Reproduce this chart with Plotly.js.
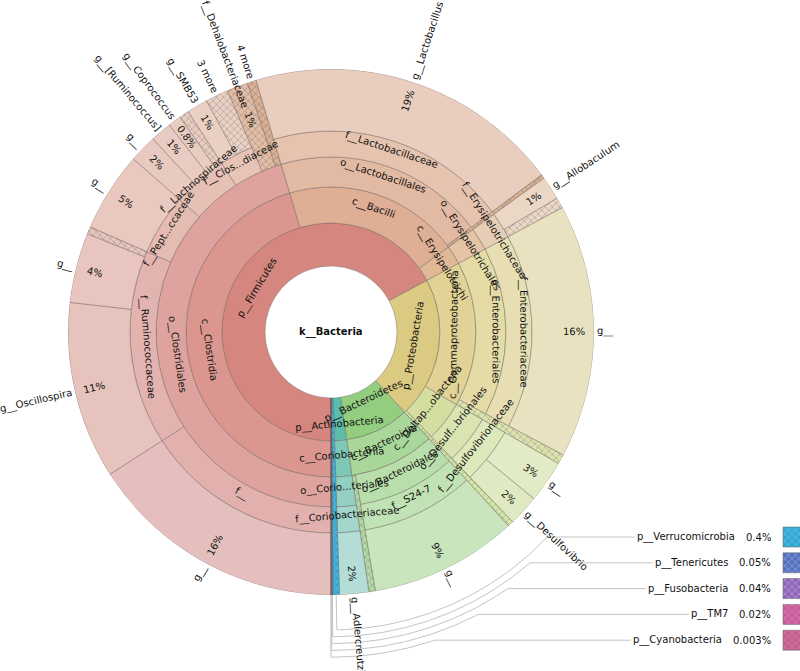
<!DOCTYPE html>
<html><head><meta charset="utf-8">
<script src="https://cdn.plot.ly/plotly-3.0.1.min.js"></script>
<style>html,body{margin:0;padding:0;background:#fff}#chart{width:800px;height:671px}</style>
</head><body><div id="chart"></div>
<script>
// ================= DATA =================
const rootName = "k__Bacteria";
// leaves, clockwise from 6 o'clock; "~other" = unlabeled remainder, "n more" = collapsed group
const leafPaths = [
  "p__Firmicutes/c__Clostridia/o__Clostridiales/f__/g__",
  "p__Firmicutes/c__Clostridia/o__Clostridiales/f__Ruminococcaceae/g__Oscillospira",
  "p__Firmicutes/c__Clostridia/o__Clostridiales/f__Ruminococcaceae/g__",
  "p__Firmicutes/c__Clostridia/o__Clostridiales/f__Ruminococcaceae/~other",
  "p__Firmicutes/c__Clostridia/o__Clostridiales/f__Pept...ccaceae/g__",
  "p__Firmicutes/c__Clostridia/o__Clostridiales/f__Lachnospiraceae/g__",
  "p__Firmicutes/c__Clostridia/o__Clostridiales/f__Lachnospiraceae/g__[Ruminococcus]",
  "p__Firmicutes/c__Clostridia/o__Clostridiales/f__Lachnospiraceae/g__Coprococcus",
  "p__Firmicutes/c__Clostridia/o__Clostridiales/f__Lachnospiraceae/~other",
  "p__Firmicutes/c__Clostridia/o__Clostridiales/f__Clos...diaceae/g__SMB53",
  "p__Firmicutes/c__Clostridia/o__Clostridiales/f__Clos...diaceae/3 more",
  "p__Firmicutes/c__Clostridia/o__Clostridiales/f__Dehalobacteriaceae",
  "p__Firmicutes/c__Clostridia/o__Clostridiales/4 more",
  "p__Firmicutes/c__Bacilli/o__Lactobacillales/f__Lactobacillaceae/g__Lactobacillus",
  "p__Firmicutes/c__Bacilli/~other",
  "p__Firmicutes/c__Erysipelotrichi/o__Erysipelotrichales/f__Erysipelotrichaceae/g__Allobaculum",
  "p__Firmicutes/c__Erysipelotrichi/o__Erysipelotrichales/f__Erysipelotrichaceae/~other",
  "p__Proteobacteria/c__Gammaproteobacteria/o__Enterobacteriales/f__Enterobacteriaceae/g__",
  "p__Proteobacteria/c__Gammaproteobacteria/~other",
  "p__Proteobacteria/c__Deltap...obacteria/o__Desulf...brionales/f__Desulfovibrionaceae/g__",
  "p__Proteobacteria/c__Deltap...obacteria/o__Desulf...brionales/f__Desulfovibrionaceae/g__Desulfovibrio",
  "p__Proteobacteria/~other",
  "p__Bacteroidetes/c__Bacteroidia/o__Bacteroidales/f__S24-7/g__",
  "p__Bacteroidetes/c__Bacteroidia/~other",
  "p__Actinobacteria/c__Coriobacteriia/o__Corio...teriales/f__Coriobacteriaceae/g__Adlercreutzia"
];
const leafValues = [15.9, 10.9, 4.3, 0.45, 4.9, 1.7, 1.3, 0.8, 0.6, 1.3, 1.4, 1.3, 0.55,
                    19.4, 0.25, 1.45, 0.65, 15.6, 0.6, 2.6, 1.9, 0.35, 9.1, 0.4, 1.787];
// small phyla shown with keys
const minorPhyla  = ["p__Verrucomicrobia", "p__Tenericutes", "p__Fusobacteria", "p__TM7", "p__Cyanobacteria"];
const minorValues = [0.4, 0.05, 0.04, 0.02, 0.003];

// ================= STYLE =================
const W = 800, H = 671, CX = 331, CY = 332;
const RING = [66, 109, 145, 175, 201, 263];
const FONT = "DejaVu Sans", FS = 10;
const FC = "p__Firmicutes/c__Clostridia", FCO = FC + "/o__Clostridiales";
const FB = "p__Firmicutes/c__Bacilli", FE = "p__Firmicutes/c__Erysipelotrichi";
const PG = "p__Proteobacteria/c__Gammaproteobacteria", PD = "p__Proteobacteria/c__Deltap...obacteria";
const BB = "p__Bacteroidetes/c__Bacteroidia", AC = "p__Actinobacteria/c__Coriobacteriia";
const nodeColor = {
  "p__Firmicutes": "#d5877f",
  [FC]: "#da968f", [FCO]: "#dea39e",
  [FCO+"/f__"]: "#e2b1ae", [FCO+"/f__/g__"]: "#e5bfbd",
  [FCO+"/f__Ruminococcaceae"]: "#e3b4af", [FCO+"/f__Ruminococcaceae/g__Oscillospira"]: "#e7c3bd",
  [FCO+"/f__Ruminococcaceae/g__"]: "#e8c6bf", [FCO+"/f__Ruminococcaceae/~other"]: "#e8c6bf",
  [FCO+"/f__Pept...ccaceae"]: "#e5bcb2", [FCO+"/f__Pept...ccaceae/g__"]: "#e8c8bf",
  [FCO+"/f__Lachnospiraceae"]: "#e6c0b4", [FCO+"/f__Lachnospiraceae/g__"]: "#e9cac0",
  [FCO+"/f__Lachnospiraceae/g__[Ruminococcus]"]: "#e9ccc1", [FCO+"/f__Lachnospiraceae/g__Coprococcus"]: "#eacdc1",
  [FCO+"/f__Lachnospiraceae/~other"]: "#eacdc1",
  [FCO+"/f__Clos...diaceae"]: "#e7c4b6", [FCO+"/f__Clos...diaceae/g__SMB53"]: "#eacfc3",
  [FCO+"/f__Clos...diaceae/3 more"]: "#ebd1c5",
  [FCO+"/f__Dehalobacteriaceae"]: "#e3bea6", [FCO+"/4 more"]: "#dcb196",
  [FB]: "#deae95", [FB+"/o__Lactobacillales"]: "#e2b9a2",
  [FB+"/o__Lactobacillales/f__Lactobacillaceae"]: "#e5c3af",
  [FB+"/o__Lactobacillales/f__Lactobacillaceae/g__Lactobacillus"]: "#e9cdbf",
  [FB+"/~other"]: "#d9b394",
  [FE]: "#dfb996", [FE+"/o__Erysipelotrichales"]: "#e3c4a7",
  [FE+"/o__Erysipelotrichales/f__Erysipelotrichaceae"]: "#e6ceb6",
  [FE+"/o__Erysipelotrichales/f__Erysipelotrichaceae/g__Allobaculum"]: "#ebd7c5",
  [FE+"/o__Erysipelotrichales/f__Erysipelotrichaceae/~other"]: "#ebd9c6",
  "p__Proteobacteria": "#dbca81",
  [PG]: "#e0d395", [PG+"/o__Enterobacteriales"]: "#e4dba6",
  [PG+"/o__Enterobacteriales/f__Enterobacteriaceae"]: "#e7dfb3",
  [PG+"/o__Enterobacteriales/f__Enterobacteriaceae/g__"]: "#e9e2c1",
  [PG+"/~other"]: "#dde4b0",
  [PD]: "#d3dea0", [PD+"/o__Desulf...brionales"]: "#d9e4b0",
  [PD+"/o__Desulf...brionales/f__Desulfovibrionaceae"]: "#dde8bb",
  [PD+"/o__Desulf...brionales/f__Desulfovibrionaceae/g__"]: "#e1ebc5",
  [PD+"/o__Desulf...brionales/f__Desulfovibrionaceae/g__Desulfovibrio"]: "#dfeac3",
  "p__Proteobacteria/~other": "#d4e6aa",
  "p__Bacteroidetes": "#93cd80",
  [BB]: "#a9d799", [BB+"/o__Bacteroidales"]: "#b8deab",
  [BB+"/o__Bacteroidales/f__S24-7"]: "#c1e2b5", [BB+"/o__Bacteroidales/f__S24-7/g__"]: "#c8e5be",
  [BB+"/~other"]: "#b3dba6",
  "p__Actinobacteria": "#5dbda9",
  [AC]: "#7ec8b8", [AC+"/o__Corio...teriales"]: "#93d0c3",
  [AC+"/o__Corio...teriales/f__Coriobacteriaceae"]: "#a4d7cc",
  [AC+"/o__Corio...teriales/f__Coriobacteriaceae/g__Adlercreutzia"]: "#b3ddd6",
  "p__Verrucomicrobia": "#3cb6e3", "p__Tenericutes": "#5872c2", "p__Fusobacteria": "#9066b8",
  "p__TM7": "#d567a8", "p__Cyanobacteria": "#cf6a9a"
};
const extraHatched = [FCO+"/f__Dehalobacteriaceae"];
// radial nudges (px) for a few ring labels
const labelNudge = {"p__Actinobacteria": 9, "p__Bacteroidetes": -7, "p__Firmicutes": -5,
                    [FCO+"/f__Lachnospiraceae"]: 10};

// ================= BUILD HIERARCHY =================
const allPaths = leafPaths.concat(minorPhyla);
const allValues = leafValues.concat(minorValues);
const nodes = {}; const order = [];
let cum = 0;
allPaths.forEach((p, i) => {
  const segs = p.split("/");
  const v = allValues[i];
  segs.forEach((s, d) => {
    const id = segs.slice(0, d + 1).join("/");
    if (!nodes[id]) { nodes[id] = {id, name: s, depth: d + 1, start: cum, value: 0, leaf: false}; order.push(id); }
    nodes[id].value += v;
  });
  nodes[p].leaf = true;
  cum += v;
});
const TOTAL = cum;
const toDeg = v => v / TOTAL * 360;

const ctx = document.createElement("canvas").getContext("2d");
function tw(s, bold) { ctx.font = (bold ? "bold " : "") + FS + "px '" + FONT + "'"; return ctx.measureText(s).width; }
function pt(r, phi) { const a = phi * Math.PI / 180; return [CX - r * Math.sin(a), CY + r * Math.cos(a)]; }
function norm(a) { while (a > 90) a -= 180; while (a <= -90) a += 180; return a; }
function radAng(phi) { const a = phi * Math.PI / 180; return Math.atan2(Math.cos(a), -Math.sin(a)) * 180 / Math.PI; }
function fmtPct(v) { return (v >= 1 ? Math.round(v) : +v.toPrecision(1)) + "%"; }
const isHidden = n => n.name.startsWith("~");
const isMore = n => /more$/.test(n.name);

// bars
const th = [], wd = [], bs = [], rr = [], cols = [], shp = [];
order.forEach(id => {
  const n = nodes[id];
  const a0 = toDeg(n.start), w = toDeg(n.value);
  const inner = RING[n.depth - 1];
  const outer = n.leaf ? RING[5] : RING[n.depth];
  th.push(a0 + w / 2); wd.push(w); bs.push(inner); rr.push(outer - inner);
  cols.push(nodeColor[id] || "#dddddd");
  shp.push((isHidden(n) || isMore(n) || extraHatched.includes(id) || n.depth === 1 && n.leaf) ? "x" : "");
});

const annotations = [];
const A = (text, x, y, angle, opts) => annotations.push(Object.assign({
  text, x, y, xref: "x", yref: "y", showarrow: false, textangle: angle,
  xanchor: "center", yanchor: "middle", font: {family: FONT, size: FS, color: "#111"}
}, opts || {}));

A("<b>" + rootName + "</b>", CX, CY, 0);

order.forEach(id => {
  const n = nodes[id];
  const phi = toDeg(n.start) + toDeg(n.value) / 2;
  if (!n.leaf) {
    const rm = (RING[n.depth - 1] + RING[n.depth]) / 2 + (labelNudge[id] || 0);
    const ang = norm(radAng(phi) + 90);
    let [x, y] = pt(rm, phi);
    const t = ang * Math.PI / 180;            // shift toward the text's "up" side (baseline on mid radius)
    x += 4 * Math.sin(t); y -= 4 * Math.cos(t);
    A(n.name, x, y, ang);
  } else if (n.depth >= 4 && !isHidden(n)) {
    const extended = n.depth < 5;
    let labelStart = RING[5] + 3;
    if (!isMore(n)) {
      const rp = extended ? (RING[n.depth - 1] + RING[5]) / 2 + 8 : RING[5] - 20;
      const [x, y] = pt(rp, phi);
      A(fmtPct(n.value / TOTAL * 100), x, y, norm(radAng(phi)));
      if (extended) labelStart = RING[5] - 23;
    }
    const w = tw(n.name);
    const [x2, y2] = pt(labelStart + w / 2, phi);
    A(n.name, x2, y2, norm(radAng(phi)));
  }
});

// keys for minor phyla
const traces = [];
const KEY_TOP = 537, KEY_STEP = 25.8, KEY_RIGHT = 773, KEY_R0 = 298, KEY_DR = 6.8;
minorPhyla.forEach((name, i) => {
  const n = nodes[name];
  const phi = toDeg(n.start) + toDeg(n.value) / 2;
  const ky = KEY_TOP + i * KEY_STEP;
  const pctTxt = fmtPct(minorValues[i] / TOTAL * 100);
  const pw = tw(pctTxt), nw = tw(name);
  const nameRight = KEY_RIGHT - pw - 11;
  A(pctTxt, KEY_RIGHT, ky, 0, {xanchor: "right"});
  A(name, nameRight, ky, 0, {xanchor: "right"});
  const rk = KEY_R0 + i * KEY_DR;
  const phiEnd = 360 - Math.acos((ky - CY) / rk) * 180 / Math.PI;
  const xs = [], ys = [];
  let p = pt(RING[5], phi); xs.push(p[0]); ys.push(p[1]);
  for (let a = phi; a > phiEnd; a -= 0.5) { p = pt(rk, a); xs.push(p[0]); ys.push(p[1]); }
  p = pt(rk, phiEnd); xs.push(p[0]); ys.push(p[1]);
  xs.push(nameRight - nw - 4); ys.push(ky);
  traces.push({type: "scatter", mode: "lines", x: xs, y: ys, xaxis: "x", yaxis: "y",
    line: {color: "#c4c4c4", width: 1}, hoverinfo: "skip"});
});
const keyCols = minorPhyla.map(n => nodeColor[n]);
traces.push({type: "bar", orientation: "h", xaxis: "x", yaxis: "y",
  y: minorPhyla.map((_, i) => KEY_TOP + i * KEY_STEP), x: minorPhyla.map(() => 40), base: 783, width: 20,
  marker: {color: keyCols, line: {color: "rgba(90,90,90,0.6)", width: 0.8},
    pattern: {shape: "x", size: 5, solidity: 0.3, fillmode: "overlay", fgcolor: "#000", fgopacity: 0.3}},
  hoverinfo: "skip"});

traces.push({
  type: "barpolar", theta: th, width: wd, base: bs, r: rr, subplot: "polar",
  marker: {color: cols, line: {color: "rgba(105,95,90,0.6)", width: 0.7},
    pattern: {shape: shp, size: 5, solidity: 0.3, fillmode: "overlay", fgcolor: "#6a4a38", fgopacity: 0.3}},
  hoverinfo: "skip"
});

const R = RING[5];
const layout = {
  width: W, height: H, margin: {l: 0, r: 0, t: 0, b: 0}, showlegend: false,
  paper_bgcolor: "#fff", plot_bgcolor: "rgba(0,0,0,0)",
  xaxis: {domain: [0, 1], range: [0, W], visible: false, fixedrange: true},
  yaxis: {domain: [0, 1], range: [H, 0], visible: false, fixedrange: true},
  polar: {
    domain: {x: [(CX - R) / W, (CX + R) / W], y: [(H - CY - R) / H, (H - CY + R) / H]},
    bgcolor: "rgba(0,0,0,0)",
    radialaxis: {visible: false, range: [0, R], showgrid: false},
    angularaxis: {visible: false, direction: "clockwise", rotation: -90, showgrid: false}
  },
  annotations
};
Plotly.newPlot("chart", traces, layout, {staticPlot: true});
</script></body></html>
